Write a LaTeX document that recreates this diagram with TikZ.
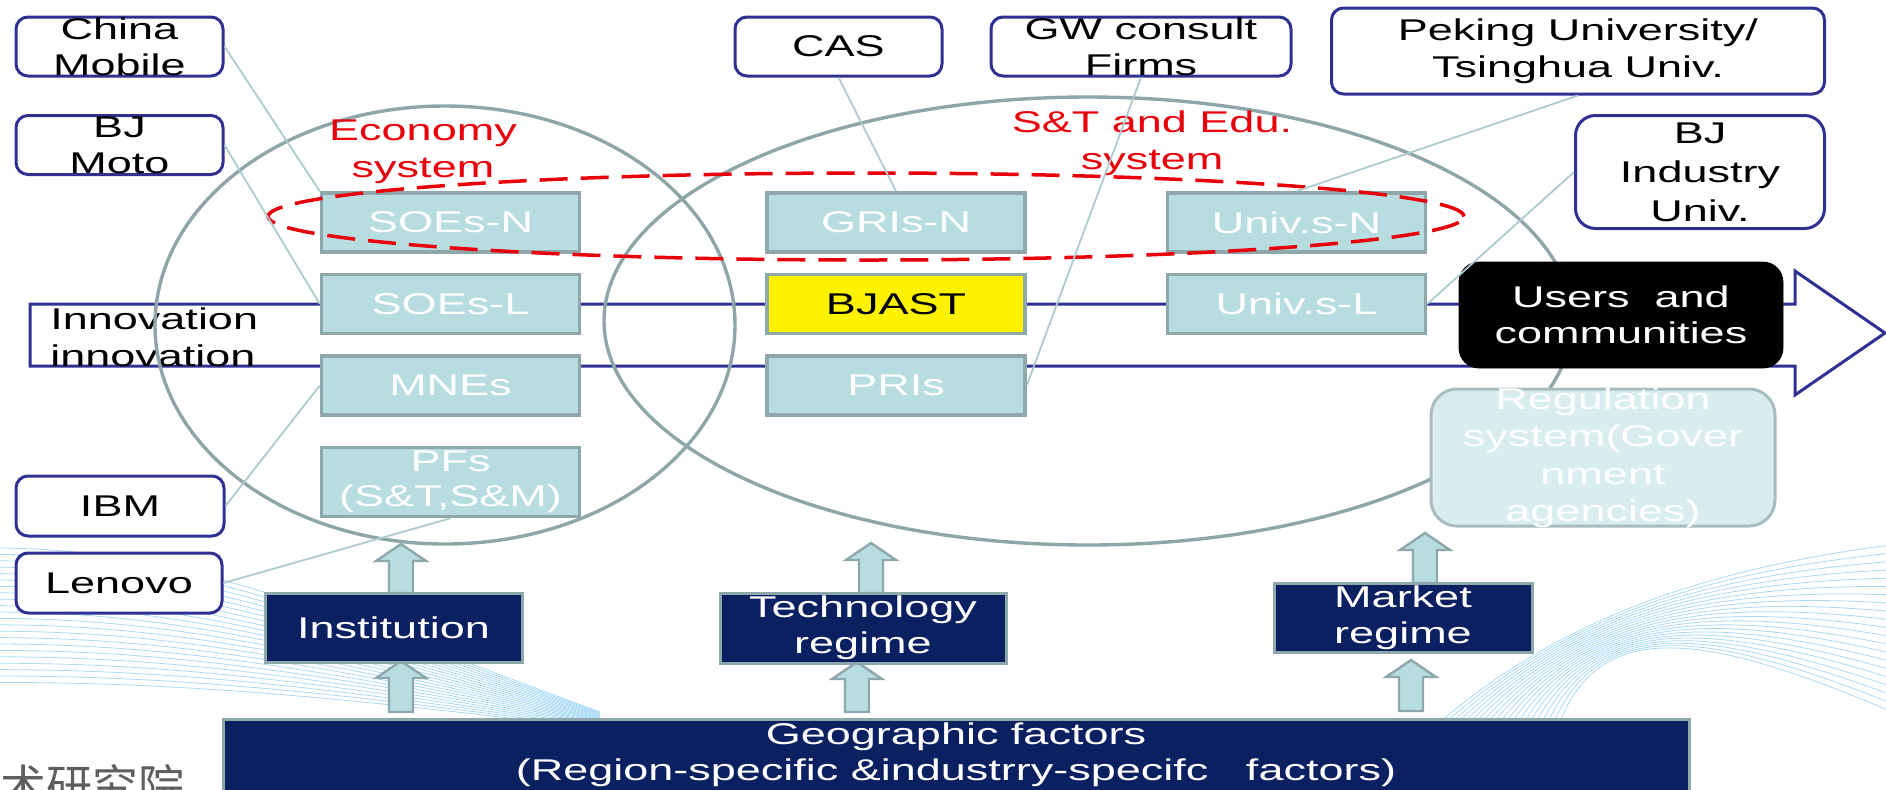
\documentclass[tikz,border=0pt]{standalone}
\usepackage{fontspec}
\setmainfont{Liberation Sans}[FakeStretch=1.5]
\newfontfamily\cjk{Noto Sans CJK SC}
\usetikzlibrary{positioning,calc}

\definecolor{framenavy}{HTML}{2E3192}
\definecolor{unitfill}{HTML}{B7DDE0}
\definecolor{unitdraw}{HTML}{8EA7AA}
\definecolor{ringgray}{HTML}{8FA6A8}
\definecolor{regimeblue}{HTML}{0B2060}
\definecolor{regfill}{HTML}{D9EDEE}
\definecolor{regdraw}{HTML}{A8BDBF}
\definecolor{linkgray}{HTML}{ADCBCF}
\definecolor{wavecol}{HTML}{A9D9F5}
\definecolor{sysred}{HTML}{E8000B}
\definecolor{logogray}{HTML}{5E5E5E}

\tikzset{
  firm/.style={draw=framenavy, line width=1.5pt, rounded corners=6pt, fill=white,
    minimum width=103.5pt, minimum height=29.5pt, align=center, inner sep=0pt},
  unit/.style={draw=unitdraw, line width=1.75pt, fill=unitfill, text=white,
    minimum width=129pt, minimum height=29.5pt, align=center, inner sep=0pt},
  regime/.style={draw=unitdraw, line width=1.5pt, fill=regimeblue, text=white,
    minimum height=34.5pt, align=center, inner sep=0pt},
  users/.style={draw=black, fill=black, text=white, rounded corners=10pt,
    minimum width=162pt, minimum height=53pt, align=center, inner sep=0pt},
  govbox/.style={draw=regdraw, line width=1.5pt, fill=regfill, rounded corners=13pt,
    minimum width=172pt, minimum height=68.5pt, inner sep=0pt},
  sysname/.style={text=sysred, align=center, inner sep=0pt},
  ring/.style={draw=ringgray, line width=1.7pt},
  national/.style={draw=sysred, line width=1.75pt, dash pattern=on 14pt off 6.5pt},
  band/.style={draw=framenavy, line width=1.5pt, fill=white},
  link/.style={draw=linkgray, line width=0.9pt},
  lift/.style={draw=unitdraw, fill=unitfill, line width=1.2pt},
  wave/.style={draw=wavecol, line width=0.4pt},
  boxtext/.style={align=center, inner sep=0pt}
}

% block arrow pointing up, from #1 (foot) to #2 (tip)
\newcommand{\liftarrow}[2]{%
  \draw[lift] let \p1=(#1), \p2=(#2) in
    (\x2-6pt,\y1) -- (\x2-6pt,\y2-8.5pt) -- (\x2-12.5pt,\y2-8.5pt) -- (\x2,\y2)
    -- (\x2+12.5pt,\y2-8.5pt) -- (\x2+6pt,\y2-8.5pt) -- (\x2+6pt,\y1) -- cycle;}

\begin{document}
\begin{tikzpicture}[x=0.5pt,y=-0.5pt,font=\fontsize{15}{18}\selectfont]
\useasboundingbox (0,0) rectangle (1886,789);

% background swooshes
\foreach \i in {0,...,21}
  \draw[wave] (-5,{548+6.4*\i}) .. controls (180,{548+6.4*\i}) and (330,{612+4*\i}) .. (600,{712+0.8*\i});
\foreach \i in {0,...,20}
  \draw[wave] ({1440+6*\i},722) .. controls ({1560+2*\i},620) and (1700,{570+3*\i}) .. (1890,{545+8.3*\i});

% innovation arrow
\draw[band] (30,304) -- (1795,304) -- (1795,271) -- (1885,333) -- (1795,395) -- (1795,366) -- (30,366) -- cycle;
\node[anchor=west, align=left, inner sep=0pt, font=\fontsize{15}{18.5}\selectfont] (inno) at (50,337) {Innovation\\innovation};

% economy and S&T systems
\draw[ring] (445,325) ellipse [x radius=145pt, y radius=109.5pt];
\draw[ring] (1088,321) ellipse [x radius=242pt, y radius=112pt];

\node[unit] (soen) at (450.5,222.5) {SOEs-N};
\node[unit, below=9.5pt of soen] (soel) {SOEs-L};
\node[unit, below=9.5pt of soel] (mne) {MNEs};
\node[unit, below=14.5pt of mne, minimum height=34.5pt, font=\fontsize{15}{17.5}\selectfont] (pfs) {PFs\\(S\&T,S\&M)};
\node[unit, right=92pt of soen] (grin) {GRIs-N};
\node[unit, below=9.5pt of grin, fill=yellow, text=black] (bjast) {BJAST};
\node[unit, below=9.5pt of bjast] (pri) {PRIs};
\node[unit, right=69.5pt of grin] (univn) {Univ.s-N};
\node[unit, below=9.5pt of univn] (univl) {Univ.s-L};

\node[users] (users) at (1621,315) {Users\ \ and\\communities};
\node[govbox, label={[boxtext, text=white, font=\fontsize{15}{18.75}\selectfont]center:{Regulation\\system(Gover\\nment\\agencies)}}] (reg) at (1603,457.5) {};

\draw[national] (866,216.5) ellipse [x radius=299pt, y radius=21.75pt];
\node[sysname, font=\fontsize{15}{18.5}\selectfont] (econ) at (423,152) {Economy\\system};
\node[sysname, font=\fontsize{15}{18.5}\selectfont] (stedu) at (1152,143) {S\&T and Edu.\\system};

% actors
\node[firm, label={[boxtext]center:{China\\Mobile}}] (chm) at (119.5,46.5) {};
\node[firm, label={[boxtext]center:{BJ\\Moto}}] (bjm) at (119.5,145) {};
\node[firm] (cas) at (838.5,46.5) {CAS};
\node[firm, minimum width=150pt, label={[boxtext]center:{GW consult\\Firms}}] (gwc) at (1141,46.5) {};
\node[firm, minimum width=246.5pt, minimum height=43pt, font=\fontsize{15}{18.5}\selectfont] (pku) at (1578,51) {Peking University/\\Tsinghua Univ.};
\node[firm, minimum width=124.5pt, minimum height=56.5pt, rounded corners=10pt, font=\fontsize{15}{19.5}\selectfont] (bji) at (1700,172) {BJ\\Industry\\Univ.};
\node[firm, minimum width=104pt, minimum height=30pt] (ibm) at (120,506) {IBM};
\node[firm, minimum width=103pt, minimum height=30pt] (len) at (119,583) {Lenovo};

\draw[link] (chm.east) -- (soen.north west);
\draw[link] (bjm.east) -- (soel.west);
\draw[link] (ibm.east) -- (mne.west);
\draw[link] (len.east) -- (pfs.south);
\draw[link] (cas.south) -- (grin.north);
\draw[link] (gwc.south) -- (pri.east);
\draw[link] (pku.south) -- (univn.north);
\draw[link] (bji.west) -- (univl.east);

% regimes
\liftarrow{401,712}{401,661}
\liftarrow{401,593}{401,544}
\liftarrow{857,712}{857,662}
\liftarrow{871,593}{871,543}
\liftarrow{1411,711}{1411,660}
\liftarrow{1425,583}{1425,533}

\node[regime, minimum width=128.5pt] (inst) at (393.5,627.5) {Institution};
\node[regime, minimum width=143pt, minimum height=35pt] (tech) at (863,628) {Technology\\regime};
\node[regime, minimum width=129pt] (mkt) at (1403,617.5) {Market\\regime};
\node[regime, minimum width=733pt, minimum height=36pt] (geo) at (956,755) {Geographic factors\\(Region-specific \&industrry-specifc\ \ \ factors)};

\node[anchor=base west, inner sep=0pt, text=logogray, font=\cjk\fontsize{23}{23}\selectfont] (logo) at (0,803) {术研究院};
\end{tikzpicture}
\end{document}
